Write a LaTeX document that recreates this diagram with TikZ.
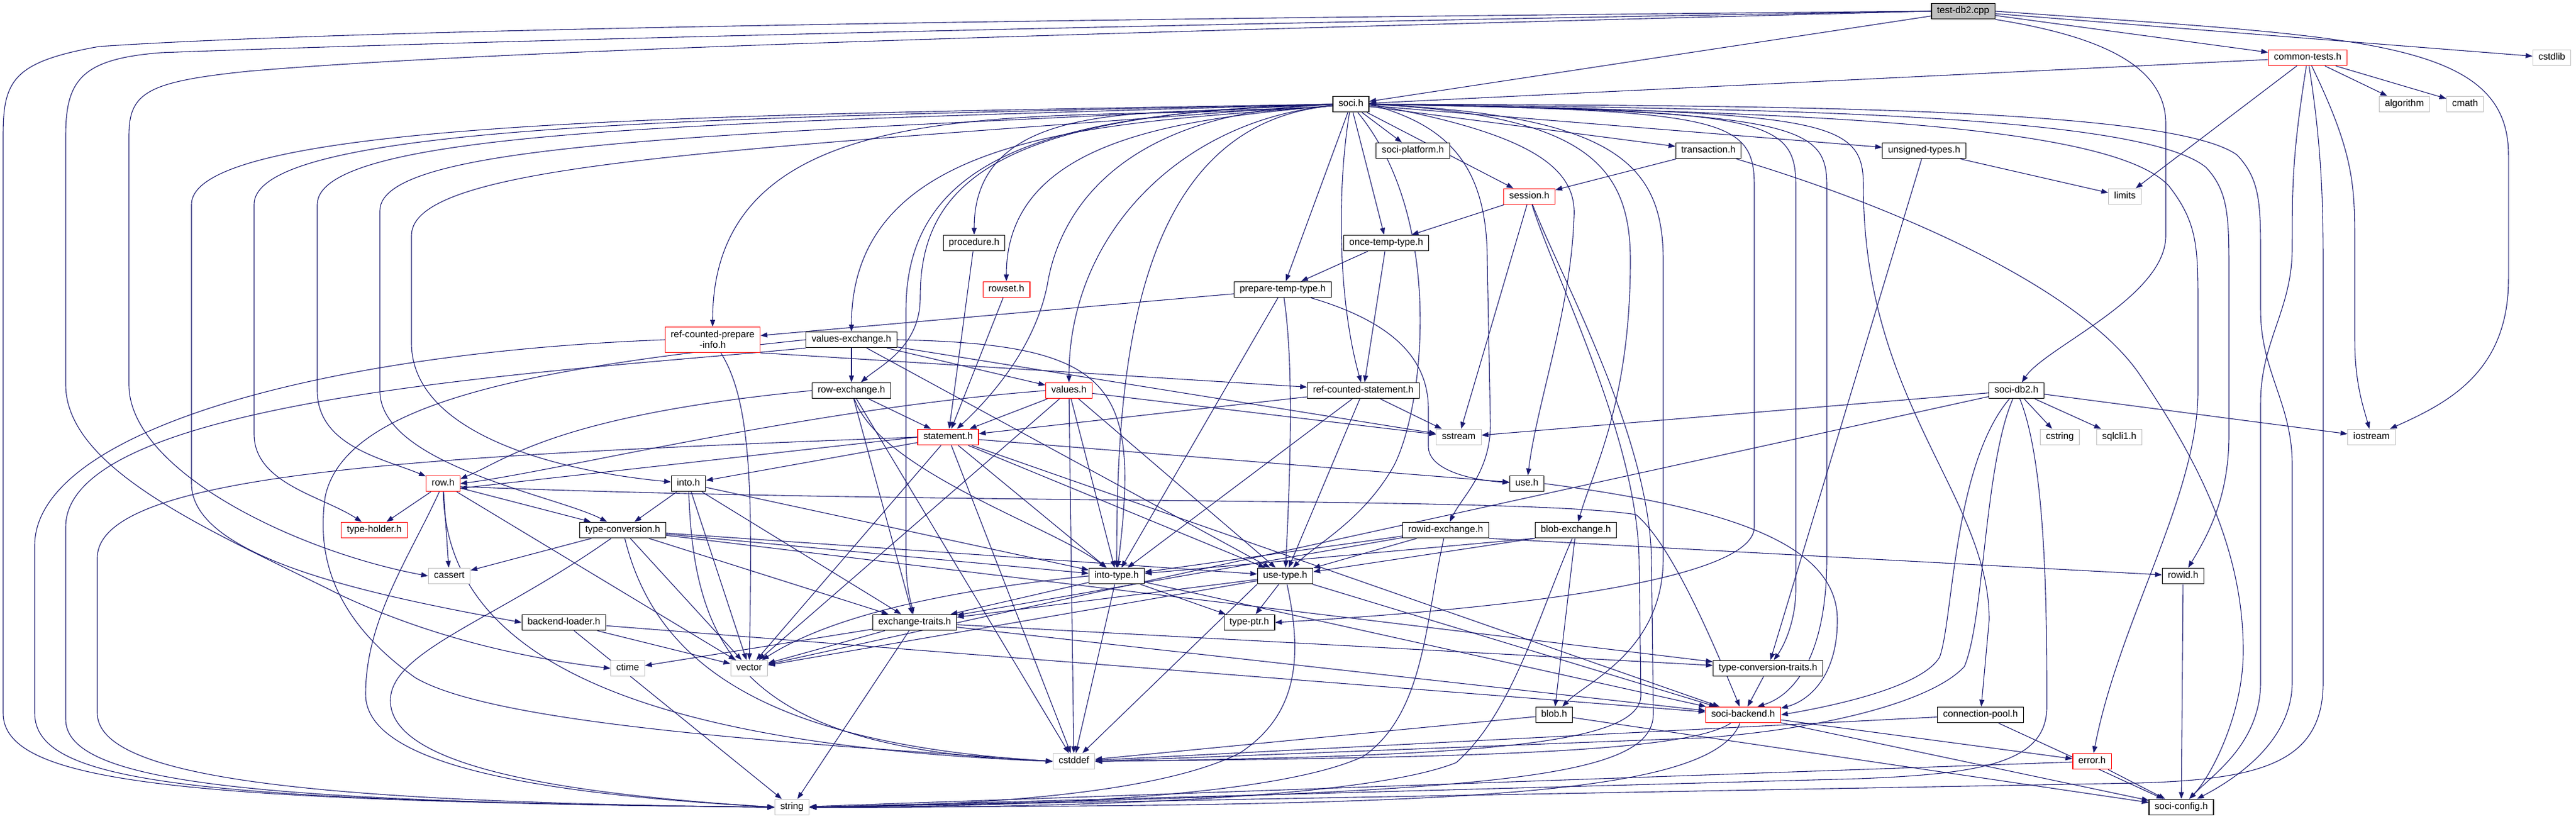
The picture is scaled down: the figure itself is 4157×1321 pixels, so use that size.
\documentclass[tikz,border=0pt]{standalone}
\usepackage{fontspec}
\setmainfont{Liberation Sans}
\usetikzlibrary{arrows.meta}
\definecolor{edgec}{HTML}{191970}
\definecolor{leafgray}{HTML}{BFBFBF}
\definecolor{redb}{HTML}{FF0000}
\definecolor{testfill}{HTML}{BFBFBF}
\pgfdeclarelayer{bg}
\pgfdeclarelayer{edges}
\pgfsetlayers{bg,edges,main}
\begin{document}
\begin{tikzpicture}[x=1pt,y=1pt,
  fbox/.style={draw=black, line width=1.2pt, fill=white, font=\fontsize{15.3}{17}\selectfont, inner xsep=9pt, inner ysep=0pt, minimum height=25.5pt, text height=11pt, text depth=3.2pt},
  rbox/.style={fbox, draw=redb},
  gbox/.style={fbox, draw=leafgray},
  tbox/.style={fbox, fill=testfill},
  rcpibox/.style={draw=redb, line width=1.2pt, fill=white, font=\fontsize{15.3}{17}\selectfont, align=center, inner xsep=9pt, inner ysep=3pt, minimum height=41pt},
  e/.style={draw=edgec, line width=1.1pt, -{Triangle[length=11pt,width=8pt]}},
]
\useasboundingbox (0,0) rectangle (4157,-1321);
\begin{pgfonlayer}{bg}
\fill[white] (0,0) rectangle (4157,-1321);
\end{pgfonlayer}

% ---------------- nodes ----------------
\node[tbox] (test) at (3168,-18) {test-db2.cpp};
\node[rbox] (common) at (3724,-93) {common-tests.h};
\node[gbox] (cstdlib) at (4118,-93) {cstdlib};
\node[fbox] (soci) at (2180,-168) {soci.h};
\node[gbox] (algorithm) at (3880,-168) {algorithm};
\node[gbox] (cmath) at (3978,-168) {cmath};
\node[fbox] (splat) at (2280,-243) {soci-platform.h};
\node[fbox] (trans) at (2757,-243) {transaction.h};
\node[fbox] (unsig) at (3105,-243) {unsigned-types.h};
\node[rbox] (session) at (2468,-317) {session.h};
\node[gbox] (limits) at (3429,-317) {limits};
\node[fbox] (proc) at (1572,-392) {procedure.h};
\node[fbox] (once) at (2237,-392) {once-temp-type.h};
\node[rbox] (rowset) at (1624,-467) {rowset.h};
\node[fbox] (prep) at (2070,-467) {prepare-temp-type.h};
\node[rcpibox] (rcpi) at (1150,-548) {ref-counted-prepare\\-info.h};
\node[fbox] (valex) at (1374,-548) {values-exchange.h};
\node[fbox] (rowex) at (1374,-630) {row-exchange.h};
\node[rbox] (values) at (1725,-630) {values.h};
\node[fbox] (rcs) at (2200,-630) {ref-counted-statement.h};
\node[fbox] (db2) at (3254,-630) {soci-db2.h};
\node[rbox] (stmt) at (1530,-705) {statement.h};
\node[gbox] (sstream) at (2354,-705) {sstream};
\node[gbox] (cstring) at (3324,-705) {cstring};
\node[gbox] (sqlcli) at (3420,-705) {sqlcli1.h};
\node[gbox] (iostream) at (3827,-705) {iostream};
\node[rbox] (rowh) at (715,-780) {row.h};
\node[fbox] (into) at (1111,-780) {into.h};
\node[fbox] (use) at (2464,-780) {use.h};
\node[rbox] (tholder) at (604,-855) {type-holder.h};
\node[fbox] (tconv) at (1005,-855) {type-conversion.h};
\node[fbox] (ridex) at (2333,-855) {rowid-exchange.h};
\node[fbox] (blobex) at (2543,-855) {blob-exchange.h};
\node[gbox] (cassert) at (725,-929) {cassert};
\node[fbox] (intot) at (1802,-929) {into-type.h};
\node[fbox] (uset) at (2074,-929) {use-type.h};
\node[fbox] (rowid) at (3523,-929) {rowid.h};
\node[fbox] (bload) at (910,-1004) {backend-loader.h};
\node[fbox] (exch) at (1476,-1004) {exchange-traits.h};
\node[fbox] (tptr) at (2016,-1004) {type-ptr.h};
\node[gbox] (ctime) at (1013,-1078) {ctime};
\node[gbox] (vector) at (1209,-1078) {vector};
\node[fbox] (tct) at (2853,-1078) {type-conversion-traits.h};
\node[fbox] (blob) at (2508,-1153) {blob.h};
\node[rbox] (backend) at (2813,-1153) {soci-backend.h};
\node[fbox] (cpool) at (3196,-1153) {connection-pool.h};
\node[gbox] (cstddef) at (1733,-1228) {cstddef};
\node[rbox] (error) at (3376,-1228) {error.h};
\node[gbox] (string) at (1278,-1302) {string};
\node[fbox] (config) at (3520,-1302) {soci-config.h};

% ---------------- edges ----------------
\begin{pgfonlayer}{edges}
% test-db2.cpp
\draw[e] (test.west) .. controls (1800,-30) and (600,-45) .. (160,-75) .. controls (20,-100) and (5,-130) .. (5,-220) -- (5,-1150) .. controls (5,-1265) and (300,-1292) .. (string.west);
\draw[e] (test.west) .. controls (1800,-40) and (700,-68) .. (260,-85) .. controls (130,-95) and (106,-130) .. (106,-220) -- (106,-620) .. controls (106,-760) and (350,-860) .. (550,-960) .. controls (700,-1030) and (850,-1062) .. (ctime.west);
\draw[e] (test.west) .. controls (1800,-52) and (800,-80) .. (400,-115) .. controls (235,-132) and (208,-150) .. (208,-220) -- (208,-620) .. controls (208,-760) and (480,-890) .. (cassert.west);
\draw[e] (test) -- (soci);
\draw[e] (test) -- (common);
\draw[e] (test) -- (cstdlib);
\draw[e] (test.south east) .. controls (3400,-60) and (3495,-110) .. (3495,-200) -- (3495,-380) .. controls (3495,-480) and (3300,-560) .. (db2);
\draw[e] (test.east) .. controls (3800,-60) and (4048,-60) .. (4048,-250) -- (4048,-450) .. controls (4048,-600) and (3950,-650) .. (iostream);
% common-tests.h
\draw[e] (common) -- (soci);
\draw[e] (common) -- (algorithm);
\draw[e] (common) -- (cmath);
\draw[e] (common) -- (limits);
\draw[e] (common) .. controls (3800,-250) and (3800,-300) .. (3800,-400) -- (3800,-550) .. controls (3800,-620) and (3815,-660) .. (iostream);
\draw[e] (common) .. controls (3699,-250) and (3699,-300) .. (3699,-400) .. controls (3699,-500) and (3648,-550) .. (3648,-650) -- (3648,-1100) .. controls (3648,-1200) and (3570,-1250) .. (config);
\draw[e] (common) .. controls (3749,-250) and (3749,-350) .. (3749,-450) -- (3749,-1100) .. controls (3749,-1230) and (3650,-1257) .. (3450,-1263) -- (string.east);
% soci.h
\draw[e] (soci) -- (splat);
\draw[e] (soci) -- (once);
\draw[e] (soci) -- (prep);
\draw[e] (soci) .. controls (2158,-300) and (2158,-480) .. (rcs);
\draw[e] (soci) -- (session);
\draw[e] (soci) -- (trans);
\draw[e] (soci) -- (unsig);
\draw[e] (soci) .. controls (2330,-350) and (2300,-650) .. (2250,-750) .. controls (2200,-840) and (2120,-880) .. (uset);
\draw[e] (soci.east) .. controls (2470,-215) and (2545,-270) .. (2540,-350) .. controls (2535,-500) and (2480,-650) .. (use);
\foreach \t in {proc,rowset,rcpi,valex,values,intot}
  \draw[e] (soci) to[out=185,in=90] (\t);
\draw[e] (soci) .. controls (1600,-180) and (1485,-300) .. (1485,-480) .. controls (1485,-560) and (1420,-590) .. (rowex);
\draw[e] (soci) .. controls (1750,-180) and (1700,-400) .. (1690,-460) .. controls (1670,-560) and (1600,-640) .. (stmt);
\draw[e] (soci) .. controls (1700,-180) and (1462,-250) .. (1462,-500) -- (1462,-900) .. controls (1462,-950) and (1470,-970) .. (exch);
\draw[e] (soci.west) .. controls (1200,-185) and (309,-190) .. (309,-330) -- (309,-780) .. controls (309,-900) and (600,-960) .. (bload.west);
\draw[e] (soci.west) .. controls (1200,-190) and (410,-195) .. (410,-330) -- (410,-700) .. controls (410,-780) and (520,-800) .. (tholder);
\draw[e] (soci.west) .. controls (1200,-197) and (512,-205) .. (512,-330) -- (512,-630) .. controls (512,-720) and (620,-740) .. (rowh);
\draw[e] (soci.west) .. controls (1200,-217) and (613,-225) .. (613,-340) -- (613,-630) .. controls (613,-750) and (900,-800) .. (tconv);
\draw[e] (soci.west) .. controls (1200,-242) and (664,-260) .. (664,-380) -- (664,-553) .. controls (664,-700) and (900,-760) .. (into);
\draw[e] (soci.east) .. controls (2330,-200) and (2400,-260) .. (2400,-420) -- (2405,-680) .. controls (2407,-760) and (2360,-800) .. (ridex);
\draw[e] (soci.east) .. controls (2550,-185) and (2631,-260) .. (2631,-420) .. controls (2631,-650) and (2570,-760) .. (blobex);
\draw[e] (soci.east) .. controls (2600,-185) and (2684,-260) .. (2684,-420) -- (2684,-900) .. controls (2684,-1050) and (2560,-1100) .. (blob);
\draw[e] (soci.east) .. controls (2780,-178) and (2831,-190) .. (2831,-300) -- (2831,-850) .. controls (2831,-950) and (2300,-990) .. (tptr.east);
\draw[e] (soci.east) .. controls (2850,-178) and (2898,-190) .. (2898,-300) -- (2898,-950) .. controls (2898,-1000) and (2880,-1040) .. (tct);
\draw[e] (soci.east) .. controls (2900,-180) and (2948,-200) .. (2948,-300) -- (2948,-900) .. controls (2948,-1050) and (2900,-1120) .. (backend.30);
\draw[e] (soci.east) .. controls (2950,-180) and (3007,-190) .. (3007,-300) .. controls (3007,-650) and (3210,-800) .. (3210,-1000) -- (cpool);
\draw[e] (soci.east) .. controls (2800,-180) and (3400,-190) .. (3500,-300) .. controls (3547,-360) and (3547,-400) .. (3547,-500) -- (3547,-630) .. controls (3547,-800) and (3420,-1000) .. (error);
\draw[e] (soci.east) .. controls (2800,-175) and (3450,-180) .. (3560,-270) .. controls (3597,-310) and (3597,-350) .. (3597,-450) -- (3597,-700) .. controls (3597,-800) and (3565,-860) .. (rowid);
\draw[e] (soci.east) .. controls (2800,-170) and (3500,-170) .. (3610,-250) .. controls (3648,-290) and (3648,-330) .. (3648,-420) -- (3648,-500) .. controls (3648,-600) and (3699,-650) .. (3699,-750) -- (3699,-1100) .. controls (3699,-1200) and (3600,-1260) .. (config);
% transaction.h, unsigned-types.h
\draw[e] (trans) -- (session);
\draw[e] (trans) .. controls (3050,-330) and (3350,-460) .. (3450,-600) .. controls (3560,-760) and (3620,-900) .. (3620,-1050) .. controls (3620,-1150) and (3570,-1250) .. (config);
\draw[e] (unsig) -- (limits);
\draw[e] (unsig) -- (tct);
% session.h
\draw[e] (session) -- (once);
\draw[e] (session) -- (sstream);
\draw[e] (session) .. controls (2510,-450) and (2640,-700) .. (2645,-900) -- (2648,-1120) .. controls (2650,-1200) and (2400,-1220) .. (cstddef.east);
\draw[e] (session) .. controls (2520,-450) and (2660,-700) .. (2665,-900) -- (2668,-1150) .. controls (2670,-1260) and (2400,-1280) .. (string.east);
% once, procedure, rowset, prepare
\draw[e] (once) -- (prep);
\draw[e] (once) -- (rcs);
\draw[e] (proc) -- (stmt);
\draw[e] (rowset) -- (stmt);
\draw[e] (prep) -- (rcpi);
\draw[e] (prep) -- (intot);
\draw[e] (prep) .. controls (2090,-600) and (2080,-800) .. (uset);
\draw[e] (prep) .. controls (2250,-520) and (2305,-580) .. (2305,-660) -- (2305,-720) .. controls (2305,-760) and (2380,-775) .. (use);
% ref-counted-prepare-info.h
\draw[e] (rcpi.south east) -- (rcs);
\draw[e] (rcpi) .. controls (1214,-650) and (1214,-800) .. (vector);
\draw[e] (rcpi.west) .. controls (500,-570) and (56,-700) .. (56,-880) -- (56,-1150) .. controls (56,-1262) and (300,-1292) .. (string.west);
% values-exchange.h
\draw[e] (valex) -- (rowex);
\draw[e] (valex) -- (values);
\draw[e] (valex.east) .. controls (1800,-555) and (1840,-620) .. (intot);
\draw[e] (valex) -- (uset);
\draw[e] (valex) -- (sstream);
\draw[e] (valex.south west) .. controls (900,-600) and (106,-640) .. (106,-850) -- (106,-1160) .. controls (106,-1262) and (400,-1294) .. (string.west);
\draw[e] (valex.west) .. controls (900,-590) and (560,-640) .. (525,-800) .. controls (510,-900) and (540,-1000) .. (670,-1093) .. controls (800,-1170) and (1300,-1200) .. (cstddef.west);
% row-exchange.h
\draw[e] (rowex) -- (stmt);
\draw[e] (rowex.west) .. controls (900,-670) and (820,-740) .. (rowh.15);
\draw[e] (rowex) .. controls (1420,-760) and (1700,-850) .. (intot);
\draw[e] (rowex) -- (exch);
\draw[e] (rowex) -- (cstddef);
% values.h
\draw[e] (values) -- (stmt);
\draw[e] (values.west) .. controls (1300,-660) and (900,-760) .. (rowh.0);
\draw[e] (values) -- (intot);
\draw[e] (values) -- (uset);
\draw[e] (values) -- (cstddef);
\draw[e] (values) -- (sstream);
\draw[e] (values) -- (vector);
% ref-counted-statement.h
\draw[e] (rcs) -- (stmt);
\draw[e] (rcs) -- (intot);
\draw[e] (rcs) -- (uset);
\draw[e] (rcs) -- (sstream);
% soci-db2.h
\draw[e] (db2) .. controls (3152,-750) and (3152,-1000) .. (3130,-1060) .. controls (3100,-1110) and (2950,-1140) .. (backend.east);
\draw[e] (db2) .. controls (3202,-750) and (3202,-1000) .. (3170,-1075) .. controls (3120,-1130) and (2950,-1175) .. (2750,-1190) -- (cstddef.east);
\draw[e] (db2) -- (sstream);
\draw[e] (db2) -- (vector);
\draw[e] (db2) -- (cstring);
\draw[e] (db2) -- (sqlcli);
\draw[e] (db2) -- (iostream);
\draw[e] (db2) .. controls (3303,-750) and (3303,-1000) .. (3303,-1140) .. controls (3303,-1230) and (3200,-1248) .. (3000,-1256) -- (string.east);
% statement.h
\draw[e] (stmt) -- (into);
\draw[e] (stmt) -- (use);
\draw[e] (stmt) -- (intot);
\draw[e] (stmt) -- (uset);
\draw[e] (stmt.west) -- (rowh.-15);
\draw[e] (stmt) -- (vector);
\draw[e] (stmt) -- (cstddef);
\draw[e] (stmt) -- (backend);
\draw[e] (stmt.west) .. controls (700,-735) and (157,-760) .. (157,-900) -- (157,-1150) .. controls (157,-1255) and (500,-1294) .. (string.west);
% row.h
\draw[e] (rowh) -- (tholder);
\draw[e] (rowh) -- (tconv);
\draw[e] (rowh) -- (cassert);
\draw[e] (rowh) -- (vector);
\draw[e] (rowh) .. controls (720,-1050) and (1000,-1200) .. (cstddef.west);
\draw[e] (rowh) .. controls (660,-900) and (590,-1000) .. (590,-1120) .. controls (590,-1240) and (900,-1282) .. (string.west);
\draw[e] (rowh.-10) .. controls (1500,-815) and (2450,-800) .. (2640,-830) .. controls (2700,-880) and (2770,-1050) .. (backend);
% into.h
\draw[e] (into) -- (tconv);
\draw[e] (into) -- (intot);
\draw[e] (into) -- (exch);
\draw[e] (into) -- (vector);
\draw[e] (into) .. controls (1120,-1050) and (1200,-1210) .. (cstddef.west);
% type-conversion.h
\draw[e] (tconv) -- (cassert);
\draw[e] (tconv) -- (intot);
\draw[e] (tconv) -- (uset);
\draw[e] (tconv) -- (exch);
\draw[e] (tconv) -- (tct);
\draw[e] (tconv) -- (vector);
\draw[e] (tconv) .. controls (800,-1000) and (630,-1050) .. (630,-1130) .. controls (630,-1235) and (900,-1280) .. (string.west);
\draw[e] (tconv) .. controls (1060,-1080) and (1250,-1200) .. (cstddef.west);
% exchange-traits.h
\draw[e] (exch) -- (ctime);
\draw[e] (exch) -- (vector);
\draw[e] (exch) -- (string);
\draw[e] (exch) -- (tct);
\draw[e] (exch) -- (backend);
% into-type.h
\draw[e] (intot) -- (exch);
\draw[e] (intot) -- (tptr);
\draw[e] (intot.west) .. controls (1500,-955) and (1330,-1000) .. (vector);
\draw[e] (intot) -- (cstddef);
\draw[e] (intot) -- (backend);
% use-type.h
\draw[e] (uset) -- (exch);
\draw[e] (uset) -- (tptr);
\draw[e] (uset) -- (vector);
\draw[e] (uset.south west) -- (cstddef);
\draw[e] (uset) .. controls (2100,-1050) and (2100,-1150) .. (2000,-1215) .. controls (1850,-1290) and (1500,-1300) .. (string.east);
\draw[e] (uset) -- (backend);
% use.h
\draw[e] (use.east) .. controls (2800,-820) and (2965,-880) .. (2965,-1000) .. controls (2965,-1090) and (2920,-1130) .. (backend.10);
% rowid-exchange.h
\draw[e] (ridex.south east) -- (rowid);
\draw[e] (ridex) -- (intot);
\draw[e] (ridex) -- (uset);
\draw[e] (ridex) -- (exch);
\draw[e] (ridex) .. controls (2300,-1000) and (2300,-1150) .. (2200,-1220) .. controls (2050,-1290) and (1600,-1302) .. (string.east);
% blob-exchange.h
\draw[e] (blobex) -- (blob);
\draw[e] (blobex.south west) -- (intot);
\draw[e] (blobex.south west) -- (uset);
\draw[e] (blobex) .. controls (2480,-1000) and (2440,-1150) .. (2350,-1230) .. controls (2200,-1290) and (1700,-1304) .. (string.east);
% lower nodes
\draw[e] (blob) -- (cstddef);
\draw[e] (blob) -- (config);
\draw[e] (tct) -- (backend);
\draw[e] (bload) -- (backend);
\draw[e] (bload) -- (vector);
\draw[e] (bload) -- (string);
\draw[e] (backend) -- (error);
\draw[e] (backend) -- (config);
\draw[e] (backend) .. controls (2720,-1215) and (2350,-1222) .. (cstddef.east);
\draw[e] (backend) .. controls (2760,-1290) and (2300,-1300) .. (string.east);
\draw[e] (cpool) -- (cstddef);
\draw[e] (cpool) -- (config);
\draw[e] (error) -- (config);
\draw[e] (error) -- (string);
\draw[e] (rowid) -- (config);
\end{pgfonlayer}
\end{tikzpicture}
\end{document}
